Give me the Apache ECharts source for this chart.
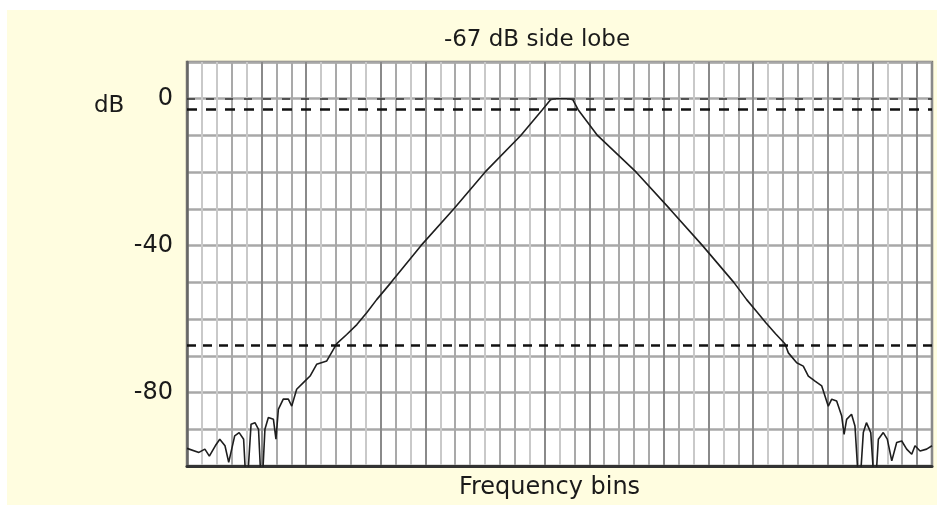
<!DOCTYPE html>
<html>
<head>
<meta charset="utf-8">
<script src="https://cdn.jsdelivr.net/npm/echarts@6/dist/echarts.min.js"></script>
<style>
  html, body { margin: 0; padding: 0; background: #ffffff; }
  #chart { position: absolute; left: 7px; top: 10px; width: 930px; height: 495px; }
</style>
</head>
<body>
<div id="chart"></div>
<script>
// ---- data ----
const chartTitle = '-67 dB side lobe';
const xAxisName = 'Frequency bins';
const yUnit = 'dB';
const yTickLabels = [0, -40, -80];
const guideLevels = [0, -3, -67];

// frequency offset in bins (centre = 0)
const freqBins = [
  -25, -24.2, -23.8, -23.5, -23.1, -22.8, -22.45, -22.2, -21.8, -21.5,
  -21.2, -21.0, -20.7, -20.44, -20.2, -19.99, -19.77, -19.54, -19.2, -19.03,
  -18.87, -18.54, -18.2, -17.97, -17.64, -17.19, -16.74, -16.3, -15.62, -14.95,
  -14.28, -13.6, -12.94, -12.27, -11.3, -9.3, -7.1, -5.0, -2.6, -1.15,
  -0.6, -0.35, 0.65, 0.9, 1.25, 2.55, 5.15, 7.4, 9.6, 11.7,
  12.56, 13.2, 13.85, 14.5, 15.13, 15.36, 15.92, 16.36, 16.7, 17.15,
  17.6, 18.04, 18.27, 18.6, 18.94, 19.1, 19.27, 19.6, 19.83, 20.12,
  20.39, 20.6, 20.89, 21.17, 21.4, 21.73, 22.0, 22.3, 22.63, 22.97,
  23.3, 23.64, 23.86, 24.2, 24.64, 25
];
// level in dB
const levelDb = [
  -95.2, -96.3, -95.4, -97.3, -94.5, -92.7, -94.5, -99, -91.8, -90.9,
  -92.7, -108, -88.6, -88.2, -90, -108, -90, -86.8, -87.3, -92.7,
  -84.6, -81.8, -81.8, -83.7, -79.1, -77.3, -75.5, -72.3, -71.4, -66.7,
  -64.2, -61.5, -58.3, -54.7, -50, -40, -30, -20, -10, -3,
  -0.3, 0, 0, -0.3, -3, -10, -20, -30, -40, -50,
  -54.7, -57.8, -61.0, -64.0, -66.7, -69.2, -71.9, -72.8, -75.5, -76.9,
  -78.2, -83.7, -81.8, -82.3, -86.4, -91.4, -87.3, -85.9, -89.1, -108,
  -90.9, -88.2, -90.9, -108, -92.7, -90.9, -92.7, -98.6, -93.6, -93.2,
  -95.4, -96.8, -94.5, -95.9, -95.4, -94.5
];

// ---- chart ----
const seriesData = freqBins.map((b, i) => [b, levelDb[i]]);

const D = '#8a8a8a', M = '#a9a9a9', L = '#c9c9c9';
const vLineColors = [
  D, L, L, M, L, D, M, M, D, L,
  M, M, L, D, M, L, D, L, M, M,
  L, M, M, L, D, L, M, D, M, M,
  M, M, D, M, L, D, L, M, D, L,
  M, M, L, D, L, M, D, L, M, D, D
];

const fontFamily = 'DejaVu Sans';
const textColor = '#1a1a1a';

const guideStyles = {
  '0':   { color: '#333', width: 1.5, type: [8, 11] },
  '-3':  { color: '#111', width: 2.5, type: [10, 9] },
  '-67': { color: '#111', width: 2.5, type: [9, 7] }
};

const chart = echarts.init(document.getElementById('chart'));
chart.setOption({
  animation: false,
  backgroundColor: '#fffde0',
  title: {
    text: chartTitle,
    left: 530,
    top: 19,
    textAlign: 'center',
    padding: 0,
    textStyle: { fontFamily, fontSize: 23, fontWeight: 'normal', color: textColor }
  },
  graphic: [{
    type: 'text',
    left: 87,
    top: 85,
    style: { text: yUnit, fontFamily, fontSize: 23, fill: textColor }
  }],
  grid: {
    left: 180, right: 5, top: 52, bottom: 38,
    show: true, backgroundColor: '#ffffff',
    borderColor: '#7d7a70', borderWidth: 2.5
  },
  xAxis: {
    type: 'value',
    min: -25, max: 25, interval: 1,
    name: xAxisName,
    nameLocation: 'middle',
    nameGap: 10,
    nameTextStyle: { fontFamily, fontSize: 24, color: textColor, verticalAlign: 'top', padding: [0, 20, 0, 0] },
    axisLine: { show: true, onZero: false, lineStyle: { color: '#333', width: 3 } },
    axisTick: { show: false },
    axisLabel: { show: false },
    splitLine: { show: true, lineStyle: { color: vLineColors, width: 2 } }
  },
  yAxis: {
    type: 'value',
    min: -100, max: 10, interval: 10,
    axisLine: { show: true, onZero: false, lineStyle: { color: '#666', width: 2.5 } },
    axisTick: { show: false },
    axisLabel: {
      margin: 14,
      fontFamily, fontSize: 24, color: textColor,
      formatter: v => (yTickLabels.indexOf(v) >= 0 ? String(v) : '')
    },
    splitLine: { show: true, lineStyle: { color: '#a8a8a8', width: 2.5 } }
  },
  series: [{
    type: 'line',
    data: seriesData,
    showSymbol: false,
    clip: true,
    lineStyle: { color: '#1e1e1e', width: 1.6 },
    markLine: {
      silent: true,
      symbol: 'none',
      label: { show: false },
      data: guideLevels.map(v => ({ yAxis: v, lineStyle: guideStyles[String(v)] }))
    }
  }]
});
</script>
</body>
</html>
